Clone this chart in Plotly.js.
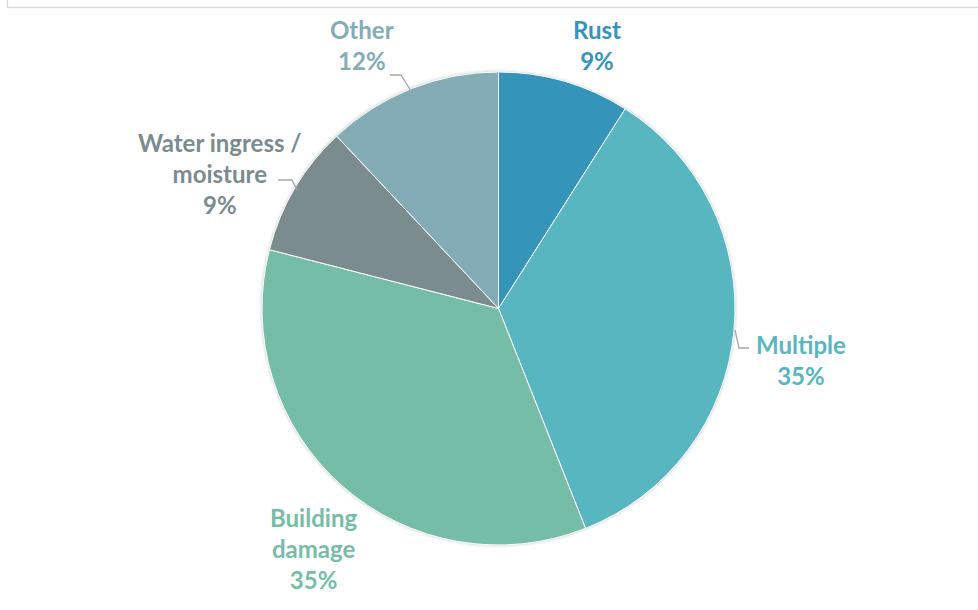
<!DOCTYPE html>
<html>
<head>
<meta charset="utf-8">
<script src="https://cdn.plot.ly/plotly-3.0.1.min.js"></script>
<style>html,body{margin:0;padding:0;background:#fff;}#chart{width:978px;height:610px;}</style>
</head>
<body>
<div id="chart"></div>
<script>
const categories = ["Rust", "Multiple", "Building damage", "Water ingress / moisture", "Other"];
const values = [9, 35, 35, 9, 12];
const labelText = ["Rust", "Multiple", "Building<br>damage", "Water ingress /<br>moisture", "Other"];
const colors = ["#3494BA", "#58B6C0", "#75BDA7", "#7A8C8E", "#84ACB6"];

// label anchor positions (paper coords) for text only
const labelPos = [
  {x: 597/978, y: 1 - 45/610},
  {x: 801/978, y: 1 - 360/610},
  {x: 313/978, y: 1 - 548/610},
  {x: 220/978, y: 1 - 173/610},
  {x: 362/978, y: 1 - 45/610}
];

const total = values.reduce((a, b) => a + b, 0);
const annotations = categories.map((c, i) => ({
  xref: 'paper', yref: 'paper',
  x: labelPos[i].x, y: labelPos[i].y,
  xanchor: 'center', yanchor: 'middle',
  showarrow: false,
  align: 'center',
  text: labelText[i] + '<br>' + Math.round(values[i] / total * 100) + '%',
  font: {family: 'Lato, "Open Sans", sans-serif', size: 24, color: colors[i], weight: 'bold'}
}));

const px = (x) => x / 978;
const py = (y) => 1 - y / 610;
const leader = (pts) => ({
  type: 'path', xref: 'paper', yref: 'paper',
  path: pts.map((p, k) => (k ? 'L' : 'M') + px(p[0]) + ',' + py(p[1])).join(' '),
  line: {color: '#A6A6A6', width: 1.3}
});
const halo = (extra, alpha) => ({
  type: 'circle', xref: 'paper', yref: 'paper', layer: 'below',
  x0: px(498.5 - 236.5 - extra), x1: px(498.5 + 236.5 + extra),
  y0: py(308.5 + 236.5 + extra), y1: py(308.5 - 236.5 - extra),
  line: {width: 0}, fillcolor: 'rgba(0,0,0,' + alpha + ')'
});

const shapes = [
  {type: 'rect', xref: 'paper', yref: 'paper', x0: px(7.5), x1: px(990), y0: py(7.5), y1: py(-20),
   line: {color: '#D9D9D9', width: 1.3}, fillcolor: 'rgba(0,0,0,0)', layer: 'below'},
  halo(3, 0.025), halo(2, 0.035), halo(1, 0.05),
  leader([[390, 75], [401, 75], [411, 91]]),
  leader([[278, 180], [292, 180], [297, 190]]),
  leader([[735, 330], [739, 348], [749, 348]])
];

const trace = {
  type: 'pie',
  labels: categories,
  values: values,
  sort: false,
  direction: 'clockwise',
  rotation: 0,
  textinfo: 'none',
  hoverinfo: 'label+percent',
  marker: {colors: colors, line: {color: '#ffffff', width: 1}},
  domain: {x: [262/978, 735/978], y: [1 - 545/610, 1 - 72/610]},
  showlegend: false
};

Plotly.newPlot('chart', [trace], {
  width: 978, height: 610,
  margin: {l: 0, r: 0, t: 0, b: 0},
  paper_bgcolor: '#ffffff',
  annotations: annotations,
  shapes: shapes,
  showlegend: false
}, {displayModeBar: false, staticPlot: true});
</script>
</body>
</html>
